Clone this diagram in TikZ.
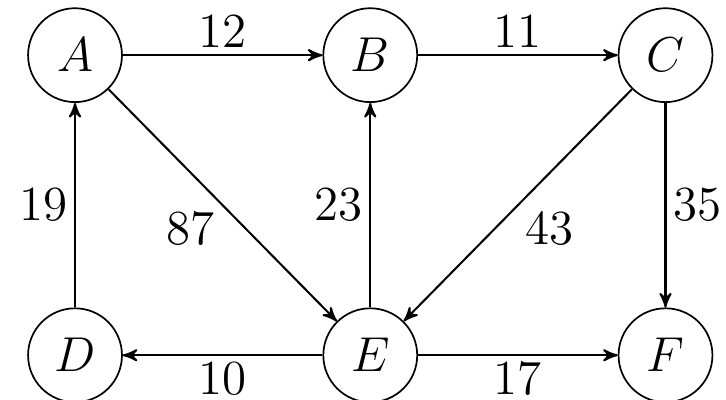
\documentclass[tikz,border=0pt]{standalone}
\usepackage{amssymb}
\usepackage{amsmath}
\usetikzlibrary{automata,positioning,arrows}
\tikzset{
  >=stealth',
  every state/.style={draw, circle, minimum size=0.97cm, inner sep=0pt, line width=0.5pt},
  every edge/.style={draw, line width=0.6pt},
  weight/.style={font=\Large, inner sep=2pt},
}
\begin{document}
\begin{tikzpicture}[->, node distance=3.05cm, auto, font=\Large]
    \useasboundingbox (0,0) rectangle (7.5,4.13);
    \node[state]            (A) at (0.775,3.56) {$A$};
    \node[state]            (B) [right of=A] {$B$};
    \node[state]            (C) [right of=B] {$C$};
    \node[state]            (D) [below of=A, node distance=3.1cm] {$D$};
    \node[state]            (E) [right of=D] {$E$};
    \node[state]            (F) [right of=E] {$F$};
    \path
      (A) edge node [weight] {$12$} (B)
      (B) edge node [weight] {$11$} (C)
      (C) edge node [weight] {$35$} (F)
      (D) edge node [weight] {$19$} (A)
      (A) edge node [weight, swap] {$87$} (E)
      (E) edge node [weight] {$23$} (B)
      (C) edge node [weight] {$43$} (E)
      (E) edge node [weight] {$10$} (D)
      (E) edge node [weight, swap] {$17$} (F);
  \end{tikzpicture}
\end{document}
